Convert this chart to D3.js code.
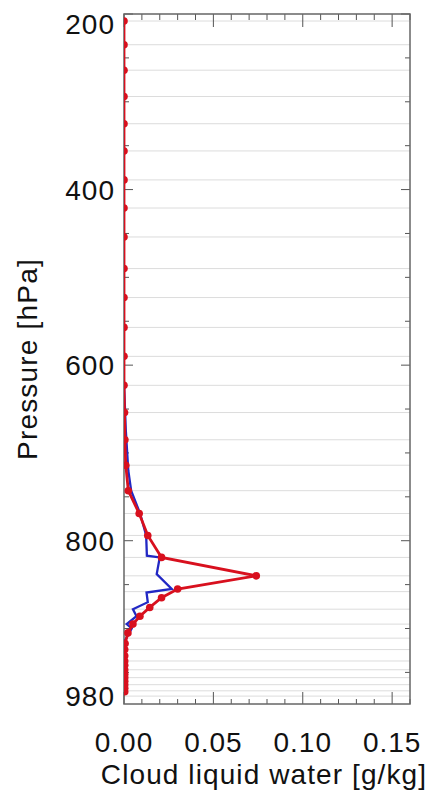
<!DOCTYPE html>
<html>
<head>
<meta charset="utf-8">
<script src="https://cdn.jsdelivr.net/npm/d3@7"></script>
<style>
  body { margin: 0; background: #fff; }
  text { font-family: "Liberation Sans", Arial, sans-serif; fill: #111; }
</style>
</head>
<body>
<div id="chart"></div>
<script>
// pressure levels of the model (grid lines)
var gridLevels = [208, 235, 264, 294, 325, 356, 389, 421, 454, 490, 523, 557, 590, 623, 654,
  685, 714, 743, 769, 794, 819, 840, 858, 878, 895, 911, 924, 937, 947, 956, 964, 971, 977];

// red profile
var redLevels = [208, 235, 264, 294, 325, 356, 389, 421, 454, 490, 523, 557, 590, 623, 654,
  685, 714, 743, 769, 794, 819, 840, 855, 865, 876, 886, 895, 905, 917, 924, 931, 937, 942,
  947, 952, 956, 960, 964, 968, 972];
var redValues = [0, 0, 0, 0, 0, 0, 0, 0, 0, 0, 0, 0, 0, 0, 0.0003,
  0.0005, 0.001, 0.0024, 0.0085, 0.0133, 0.021, 0.074, 0.030, 0.021, 0.0144, 0.0089, 0.005, 0.0022, 0.0006, 0.0004, 0.0004, 0.0004, 0.0004,
  0.0004, 0.0004, 0.0004, 0.0004, 0.0004, 0.0004, 0.0004];

// blue profile
var blueLevels = [620, 674, 720, 743, 769, 794, 817, 819, 838, 855, 859, 870, 878, 886, 895, 900, 914, 930];
var blueValues = [0, 0.001, 0.0024, 0.004, 0.009, 0.0124, 0.0128, 0.020, 0.0183, 0.0267, 0.0126, 0.0133, 0.005, 0.007, 0.0015, 0.0043, 0.0005, 0];

var xTickLabels = [0, 0.05, 0.10, 0.15];
var yTickLabels = [200, 400, 600, 800, 980];

var margin = {top: 14, right: 28, bottom: 86, left: 124};
var fullWidth = 438, fullHeight = 790;
var width = fullWidth - margin.left - margin.right;
var height = fullHeight - margin.top - margin.bottom;

var x = d3.scaleLinear().domain([0, 0.16]).range([0, width]);
var y = d3.scaleLinear().domain([200, 986]).range([0, height]);

var svg = d3.select("#chart").append("svg")
    .attr("width", fullWidth)
    .attr("height", fullHeight);

svg.append("defs").append("clipPath")
    .attr("id", "plotClip")
  .append("rect")
    .attr("width", width)
    .attr("height", height);

var g = svg.append("g")
    .attr("transform", "translate(" + margin.left + "," + margin.top + ")");

// grid lines at the model levels
g.selectAll(".grid")
    .data(gridLevels)
    .enter()
    .append("line")
    .attr("class", "grid")
    .attr("x1", 0)
    .attr("x2", width)
    .attr("y1", function(d) { return y(d); })
    .attr("y2", function(d) { return y(d); })
    .style("stroke", "#dcdcdc")
    .style("stroke-width", 1);

// ticks on all four sides, pointing inward
var xMinor = d3.range(0, 0.1601, 0.01);
var yMinor = d3.range(200, 986, 50);

function isMajorX(d) { return Math.abs(d / 0.05 - Math.round(d / 0.05)) < 1e-6; }
function isMajorY(d) { return d % 200 === 0; }

var axisG = g.append("g").style("stroke", "#555").style("stroke-width", 1);

axisG.selectAll(".tb")
    .data(xMinor)
    .enter()
    .append("line")
    .attr("x1", function(d) { return x(d); })
    .attr("x2", function(d) { return x(d); })
    .attr("y1", 0)
    .attr("y2", function(d) { return isMajorX(d) ? 13 : 6; });

axisG.selectAll(".bt")
    .data(xMinor)
    .enter()
    .append("line")
    .attr("x1", function(d) { return x(d); })
    .attr("x2", function(d) { return x(d); })
    .attr("y1", height)
    .attr("y2", function(d) { return height - (isMajorX(d) ? 12 : 5); });

axisG.selectAll(".lt")
    .data(yMinor)
    .enter()
    .append("line")
    .attr("y1", function(d) { return y(d); })
    .attr("y2", function(d) { return y(d); })
    .attr("x1", 0)
    .attr("x2", function(d) { return isMajorY(d) ? 9 : 5; });

axisG.selectAll(".rt")
    .data(yMinor)
    .enter()
    .append("line")
    .attr("y1", function(d) { return y(d); })
    .attr("y2", function(d) { return y(d); })
    .attr("x1", width)
    .attr("x2", function(d) { return width - (isMajorY(d) ? 9 : 5); });

// frame
g.append("rect")
    .attr("width", width)
    .attr("height", height)
    .style("fill", "none")
    .style("stroke", "#666")
    .style("stroke-width", 1.5);

var line = d3.line()
    .x(function(d) { return x(d[1]); })
    .y(function(d) { return y(d[0]); });

var plot = g.append("g").attr("clip-path", "url(#plotClip)");

var blueData = d3.zip(blueLevels, blueValues);
var redData = d3.zip(redLevels, redValues);

plot.append("path")
    .datum(blueData)
    .attr("d", line)
    .style("fill", "none")
    .style("stroke", "#2228c4")
    .style("stroke-width", 2.3);

plot.append("path")
    .datum(redData)
    .attr("d", line)
    .style("fill", "none")
    .style("stroke", "#d8101e")
    .style("stroke-width", 2.8);

plot.selectAll(".dot")
    .data(redData)
    .enter()
    .append("circle")
    .attr("class", "dot")
    .attr("cx", function(d) { return x(d[1]); })
    .attr("cy", function(d) { return y(d[0]); })
    .attr("r", 3.8)
    .style("fill", "#d8101e");

// tick labels
g.selectAll(".xlab")
    .data(xTickLabels)
    .enter()
    .append("text")
    .attr("x", function(d) { return x(d); })
    .attr("y", height + 48)
    .attr("text-anchor", "middle")
    .style("font-size", "28px")
    .style("letter-spacing", "1px")
    .text(function(d) { return d3.format(".2f")(d); });

g.selectAll(".ylab")
    .data(yTickLabels)
    .enter()
    .append("text")
    .attr("x", -9)
    .attr("y", function(d, i) { return i === 0 ? y(d) + 10 : (i === yTickLabels.length - 1 ? y(d) - 3 : y(d)); })
    .attr("dy", "0.36em")
    .attr("text-anchor", "end")
    .style("font-size", "28px")
    .style("letter-spacing", "1px")
    .text(function(d) { return d; });

// axis titles
svg.append("text")
    .attr("x", 264)
    .attr("y", 784)
    .attr("text-anchor", "middle")
    .style("font-size", "28px")
    .style("letter-spacing", "1.1px")
    .text("Cloud liquid water [g/kg]");

svg.append("text")
    .attr("transform", "translate(37," + 359 + ") rotate(-90)")
    .attr("text-anchor", "middle")
    .style("font-size", "28px")
    .style("letter-spacing", "1.2px")
    .text("Pressure [hPa]");
</script>
</body>
</html>
